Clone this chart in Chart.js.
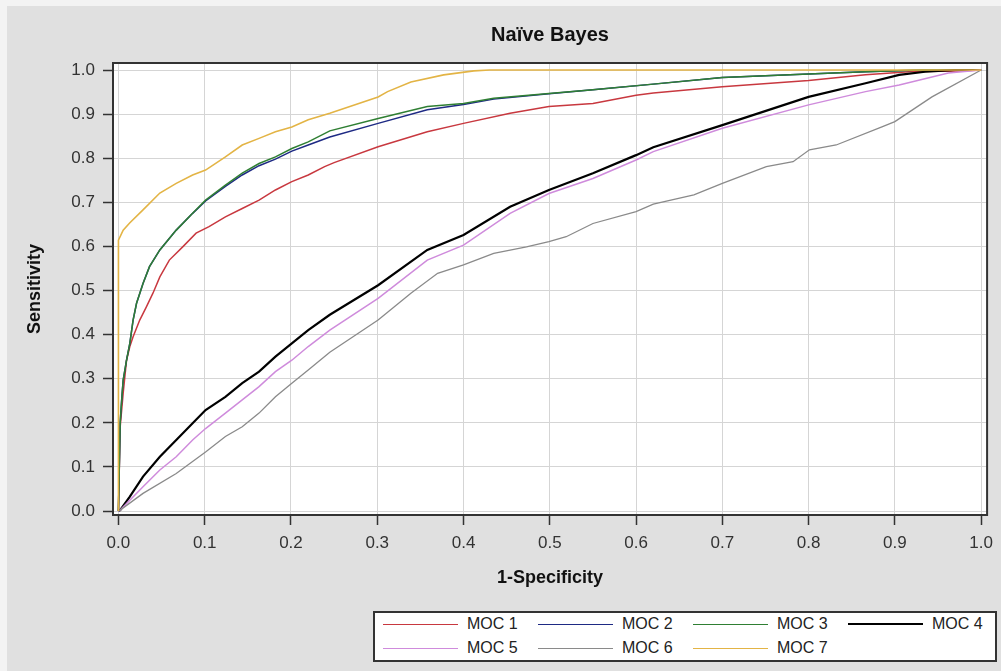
<!DOCTYPE html>
<html>
<head>
<meta charset="utf-8">
<title>Naïve Bayes ROC</title>
<script src="https://cdn.jsdelivr.net/npm/chart.js@4/dist/chart.umd.min.js"></script>
<style>
  html, body { margin: 0; padding: 0; background: #f3f3f3; }
  #wrap { position: relative; width: 1001px; height: 671px; overflow: hidden; }
  #bg { position: absolute; left: 7px; top: 6px; right: 0; bottom: 0; background: #e0e0e0; }
  #roc { position: absolute; left: 0; top: 0; }
  #legend {
    position: absolute; left: 373px; top: 611px; width: 620px; height: 47px;
    border: 2px solid #333; background: #fff;
  }
  .item {
    position: absolute; height: 20px; display: flex; align-items: center;
    font: 16px "Liberation Sans", Arial, sans-serif; color: #222; white-space: nowrap;
  }
  .swatch { width: 75px; height: 0; border-top-style: solid; margin-right: 9px; }
</style>
</head>
<body>
<div id="wrap">
  <div id="bg"></div>
  <canvas id="roc" width="1001" height="671"></canvas>
  <div id="legend"></div>
</div>
<script>
// ---- ROC curve points: false positive rate (1-Specificity) vs. true positive rate (Sensitivity)
const moc1Fpr = [0, 0.002, 0.0055, 0.0094, 0.0132, 0.017, 0.0247, 0.0324, 0.040, 0.048, 0.059, 0.0745, 0.090, 0.105, 0.124, 0.1435, 0.163, 0.182, 0.201, 0.220, 0.239, 0.25, 0.301, 0.358, 0.400, 0.454, 0.499, 0.55, 0.60, 0.62, 0.70, 0.80, 0.866, 0.916, 0.974, 1.0];
const moc1Tpr = [0, 0.19, 0.267, 0.342, 0.373, 0.395, 0.433, 0.463, 0.494, 0.531, 0.569, 0.599, 0.630, 0.645, 0.667, 0.686, 0.705, 0.728, 0.747, 0.762, 0.781, 0.79, 0.826, 0.860, 0.879, 0.902, 0.917, 0.924, 0.943, 0.948, 0.962, 0.976, 0.989, 0.996, 0.998, 1.0];

const moc2Fpr = [0, 0.002, 0.004, 0.0055, 0.0094, 0.0132, 0.017, 0.021, 0.0285, 0.036, 0.048, 0.067, 0.086, 0.101, 0.124, 0.1435, 0.163, 0.182, 0.201, 0.220, 0.245, 0.301, 0.358, 0.400, 0.435, 0.499, 0.55, 0.62, 0.70, 0.80, 0.866, 0.93, 1.0];
const moc2Tpr = [0, 0.2, 0.259, 0.297, 0.342, 0.380, 0.433, 0.471, 0.516, 0.554, 0.592, 0.637, 0.675, 0.703, 0.736, 0.762, 0.783, 0.798, 0.816, 0.830, 0.848, 0.879, 0.910, 0.922, 0.934, 0.946, 0.955, 0.968, 0.983, 0.991, 0.996, 1.0, 1.0];

const moc3Fpr = [0, 0.002, 0.004, 0.0055, 0.0094, 0.0132, 0.017, 0.021, 0.0285, 0.036, 0.048, 0.067, 0.086, 0.101, 0.124, 0.1435, 0.163, 0.182, 0.201, 0.220, 0.245, 0.301, 0.358, 0.400, 0.435, 0.499, 0.55, 0.62, 0.70, 0.80, 0.866, 0.93, 1.0];
const moc3Tpr = [0, 0.2, 0.259, 0.297, 0.342, 0.380, 0.433, 0.471, 0.516, 0.554, 0.592, 0.637, 0.675, 0.705, 0.739, 0.766, 0.788, 0.803, 0.822, 0.837, 0.862, 0.890, 0.917, 0.924, 0.936, 0.947, 0.955, 0.968, 0.983, 0.991, 0.996, 1.0, 1.0];

const moc4Fpr = [0, 0.002, 0.013, 0.0285, 0.048, 0.067, 0.086, 0.101, 0.124, 0.1435, 0.163, 0.182, 0.201, 0.220, 0.245, 0.301, 0.358, 0.400, 0.454, 0.499, 0.55, 0.60, 0.62, 0.70, 0.80, 0.866, 0.905, 0.935, 0.97, 1.0];
const moc4Tpr = [0, 0.002, 0.032, 0.078, 0.123, 0.161, 0.199, 0.229, 0.259, 0.290, 0.316, 0.350, 0.380, 0.410, 0.445, 0.512, 0.592, 0.626, 0.690, 0.728, 0.766, 0.807, 0.825, 0.875, 0.939, 0.970, 0.989, 0.996, 1.0, 1.0];

const moc5Fpr = [0, 0.002, 0.0285, 0.048, 0.067, 0.086, 0.101, 0.124, 0.1435, 0.163, 0.182, 0.201, 0.220, 0.245, 0.301, 0.358, 0.400, 0.454, 0.499, 0.55, 0.60, 0.62, 0.70, 0.80, 0.866, 0.905, 0.962, 1.0];
const moc5Tpr = [0, 0.002, 0.055, 0.093, 0.123, 0.161, 0.187, 0.222, 0.252, 0.282, 0.316, 0.342, 0.373, 0.41, 0.482, 0.569, 0.603, 0.675, 0.720, 0.754, 0.796, 0.815, 0.868, 0.921, 0.951, 0.966, 0.993, 1.0];

const moc6Fpr = [0, 0.002, 0.0285, 0.067, 0.101, 0.124, 0.1435, 0.163, 0.182, 0.201, 0.220, 0.245, 0.301, 0.339, 0.370, 0.400, 0.435, 0.473, 0.499, 0.519, 0.55, 0.60, 0.62, 0.667, 0.70, 0.751, 0.782, 0.801, 0.832, 0.885, 0.90, 0.943, 1.0];
const moc6Tpr = [0, 0.002, 0.040, 0.085, 0.134, 0.169, 0.191, 0.222, 0.259, 0.290, 0.320, 0.36, 0.433, 0.494, 0.539, 0.558, 0.584, 0.599, 0.611, 0.622, 0.652, 0.679, 0.696, 0.717, 0.743, 0.781, 0.792, 0.819, 0.830, 0.871, 0.883, 0.939, 1.0];

const moc7Fpr = [0, 0, 0.0055, 0.013, 0.0285, 0.048, 0.067, 0.086, 0.101, 0.124, 0.1435, 0.163, 0.182, 0.201, 0.220, 0.245, 0.301, 0.312, 0.339, 0.377, 0.412, 0.43, 1.0];
const moc7Tpr = [0, 0.614, 0.637, 0.653, 0.683, 0.721, 0.743, 0.762, 0.773, 0.803, 0.830, 0.845, 0.860, 0.871, 0.887, 0.902, 0.939, 0.951, 0.973, 0.989, 0.998, 1.0, 1.0];

const seriesNames = ['MOC 1', 'MOC 2', 'MOC 3', 'MOC 4', 'MOC 5', 'MOC 6', 'MOC 7'];
const seriesColors = ['#c8383f', '#1e2a84', '#2f7f33', '#000000', '#cf8bdc', '#8a8a8a', '#e3b445'];
const seriesWidths = [1.5, 1.5, 1.5, 2.2, 1.5, 1.3, 1.6];

const xTickValues = [0, 0.1, 0.2, 0.3, 0.4, 0.5, 0.6, 0.7, 0.8, 0.9, 1.0];
const xTickLabels = ['0.0', '0.1', '0.2', '0.3', '0.4', '0.5', '0.6', '0.7', '0.8', '0.9', '1.0'];
const yTickValues = [0, 0.1, 0.2, 0.3, 0.4, 0.5, 0.6, 0.7, 0.8, 0.9, 1.0];
const yTickLabels = ['0.0', '0.1', '0.2', '0.3', '0.4', '0.5', '0.6', '0.7', '0.8', '0.9', '1.0'];

const chartTitle = 'Naïve Bayes';
const xTitle = '1-Specificity';
const yTitle = 'Sensitivity';

// ---- build datasets from the arrays above
const fprs = [moc1Fpr, moc2Fpr, moc3Fpr, moc4Fpr, moc5Fpr, moc6Fpr, moc7Fpr];
const tprs = [moc1Tpr, moc2Tpr, moc3Tpr, moc4Tpr, moc5Tpr, moc6Tpr, moc7Tpr];
const datasets = seriesNames.map((name, i) => ({
  label: name,
  data: fprs[i].map((x, k) => ({ x: x, y: tprs[i][k] })),
  borderColor: seriesColors[i],
  backgroundColor: seriesColors[i],
  borderWidth: seriesWidths[i],
  pointRadius: 0,
  tension: 0,
  fill: false,
  order: i === 6 ? 0 : 7 - i
}));

const FONT = "'Liberation Sans', Arial, sans-serif";
Chart.defaults.font.family = FONT;

// white plot background, frame on all four sides, and centred title
const framePlugin = {
  id: 'frame',
  beforeDraw(chart) {
    const { ctx, chartArea: a } = chart;
    ctx.save();
    ctx.fillStyle = '#ffffff';
    ctx.fillRect(a.left, a.top, a.right - a.left, a.bottom - a.top);
    ctx.restore();
  },
  afterDraw(chart) {
    const { ctx, chartArea: a } = chart;
    ctx.save();
    ctx.strokeStyle = '#333333';
    ctx.lineWidth = 2;
    ctx.strokeRect(a.left, a.top, a.right - a.left, a.bottom - a.top);
    ctx.fillStyle = '#111111';
    ctx.font = 'bold 20px ' + FONT;
    ctx.textAlign = 'center';
    ctx.textBaseline = 'middle';
    ctx.fillText(chartTitle, (a.left + a.right) / 2, 35);
    ctx.restore();
  }
};

// legend rendered as a boxed grid below the plot, in series order
const htmlLegend = {
  id: 'htmlLegend',
  afterUpdate(chart) {
    const box = document.getElementById('legend');
    box.innerHTML = '';
    const items = chart.options.plugins.legend.labels.generateLabels(chart)
      .slice().sort((a, b) => a.datasetIndex - b.datasetIndex);
    items.forEach((it, i) => {
      const col = i % 4, row = Math.floor(i / 4);
      const el = document.createElement('div');
      el.className = 'item';
      el.style.left = (8 + col * 155) + 'px';
      el.style.top = (1 + row * 24) + 'px';
      const sw = document.createElement('span');
      sw.className = 'swatch';
      sw.style.borderTopColor = it.strokeStyle;
      sw.style.borderTopWidth = (seriesWidths[it.datasetIndex] > 2 ? 2 : 1.5) + 'px';
      const tx = document.createElement('span');
      tx.textContent = it.text;
      el.appendChild(sw);
      el.appendChild(tx);
      box.appendChild(el);
    });
  }
};

new Chart(document.getElementById('roc'), {
  type: 'line',
  data: { datasets: datasets },
  plugins: [framePlugin, htmlLegend],
  options: {
    responsive: false,
    maintainAspectRatio: false,
    animation: false,
    layout: { padding: { top: 63, right: 7, bottom: 0, left: 0 } },
    plugins: {
      legend: { display: false },
      title: { display: false },
      tooltip: { enabled: false }
    },
    scales: {
      x: {
        type: 'linear',
        min: -0.0063,
        max: 1.0069,
        afterBuildTicks(s) { s.ticks = xTickValues.map(v => ({ value: v })); },
        afterFit(s) { s.height = 156; },
        ticks: {
          callback: (v, i) => xTickLabels[i],
          color: '#333', font: { size: 17 }, padding: 8, maxRotation: 0, autoSkip: false
        },
        grid: { color: '#d5d5d5', lineWidth: 1, tickColor: '#333', tickLength: 10, tickWidth: 1.5 },
        border: { display: false },
        title: {
          display: true, text: xTitle, color: '#111',
          font: { size: 18, weight: 'bold' }, padding: { top: 0, bottom: 82 }
        }
      },
      y: {
        type: 'linear',
        min: -0.009,
        max: 1.0159,
        afterBuildTicks(s) { s.ticks = yTickValues.map(v => ({ value: v })); },
        afterFit(s) { s.width = 113; },
        ticks: {
          callback: (v, i) => yTickLabels[i],
          color: '#333', font: { size: 17 }, padding: 8, autoSkip: false
        },
        grid: { color: '#d5d5d5', lineWidth: 1, tickColor: '#333', tickLength: 10, tickWidth: 1.5 },
        border: { display: false },
        title: {
          display: true, text: yTitle, color: '#111',
          font: { size: 18, weight: 'bold' }, padding: { top: 24, bottom: 0 }
        }
      }
    }
  }
});
</script>
</body>
</html>
